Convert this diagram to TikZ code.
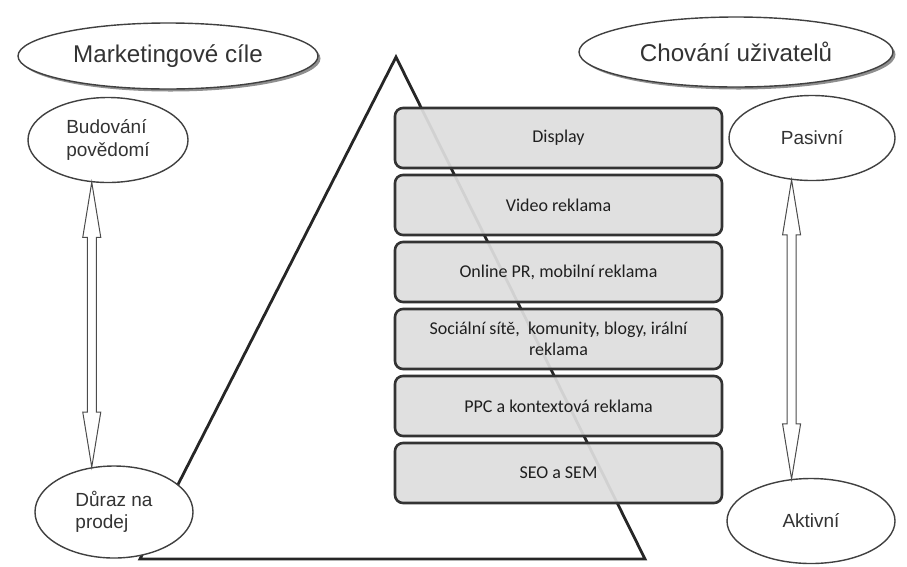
\documentclass[tikz,border=0pt]{standalone}
\usepackage{fontspec}
\setmainfont{Liberation Sans}
\newfontfamily\boxfont{Carlito}
\usetikzlibrary{shapes.geometric,shadows,calc}
\tikzset{
  goal/.style={ellipse, draw=black!75, line width=1.4pt, fill=white, inner sep=0pt, text=black!80},
  topgoal/.style={goal, font=\fontsize{24.2}{27}\selectfont,
    drop shadow={shadow xshift=2.5pt, shadow yshift=-2.5pt, fill=black!55, opacity=0.8}},
  smallgoal/.style={goal, font=\fontsize{19}{22.5}\selectfont, align=left},
  tier/.style={rounded corners=8pt, draw=black!80, line width=2.6pt, fill=black!13,
    fill opacity=0.93, text opacity=1, minimum width=327pt, minimum height=60pt,
    inner sep=0pt, text=black!88, font=\boxfont\fontsize{18}{21}\selectfont, align=center},
  pyr/.style={line width=2.8pt, draw=black!85, line join=miter},
  hollow/.style={draw=black!70, line width=1pt, fill=white}
}
\newcommand\hollowdbl[2]{%
  \path[hollow] let \p1=(#1), \p2=(#2) in
    (\x1,\y1) -- (\x1+9pt,\y1-55pt) -- (\x1+4.5pt,\y1-55pt) -- (\x1+4.5pt,\y2+55pt)
    -- (\x1+9pt,\y2+55pt) -- (\x1,\y2) -- (\x1-9pt,\y2+55pt) -- (\x1-4.5pt,\y2+55pt)
    -- (\x1-4.5pt,\y1-55pt) -- (\x1-9pt,\y1-55pt) -- cycle;}
\begin{document}
\begin{tikzpicture}[x=1pt,y=-1pt]
\useasboundingbox (0,0) rectangle (907,566);
% pyramid
\coordinate (apex) at (396,57);
\coordinate (bl) at (140,559);
\coordinate (br) at (645,559);
\draw[pyr] (apex) -- (br) -- (bl) -- cycle;
% tiers
\node[tier] (t1) at (558.5,138) {Display};
\node[tier] (t2) at (558.5,205) {Video reklama};
\node[tier] (t3) at (558.5,272) {Online PR, mobilní reklama};
\node[tier] (t4) at (558.5,339) {Sociální sítě,\ \ komunity, blogy, irální\\reklama};
\node[tier] (t5) at (558.5,406) {PPC a kontextová reklama};
\node[tier] (t6) at (558.5,473) {SEO a SEM};
% ellipses
\node[topgoal, minimum width=300pt, minimum height=66pt] (mc) at (168,56) {Marketingové cíle};
\node[topgoal, minimum width=314pt, minimum height=70pt] (cu) at (736,52) {Chování uživatelů};
\node[smallgoal, minimum width=160pt, minimum height=85pt] (bud) at (108,140) {Budování\\povědomí};
\node[smallgoal, minimum width=158pt, minimum height=92pt] (dur) at (114,512) {Důraz na\\prodej};
\node[smallgoal, minimum width=166pt, minimum height=85pt] (pas) at (812,138) {Pasivní};
\node[smallgoal, minimum width=168pt, minimum height=85pt] (akt) at (811,521) {Aktivní};
% arrows
\hollowdbl{bud.-111}{dur.116}
\hollowdbl{pas.-116}{akt.115}
\end{tikzpicture}
\end{document}
